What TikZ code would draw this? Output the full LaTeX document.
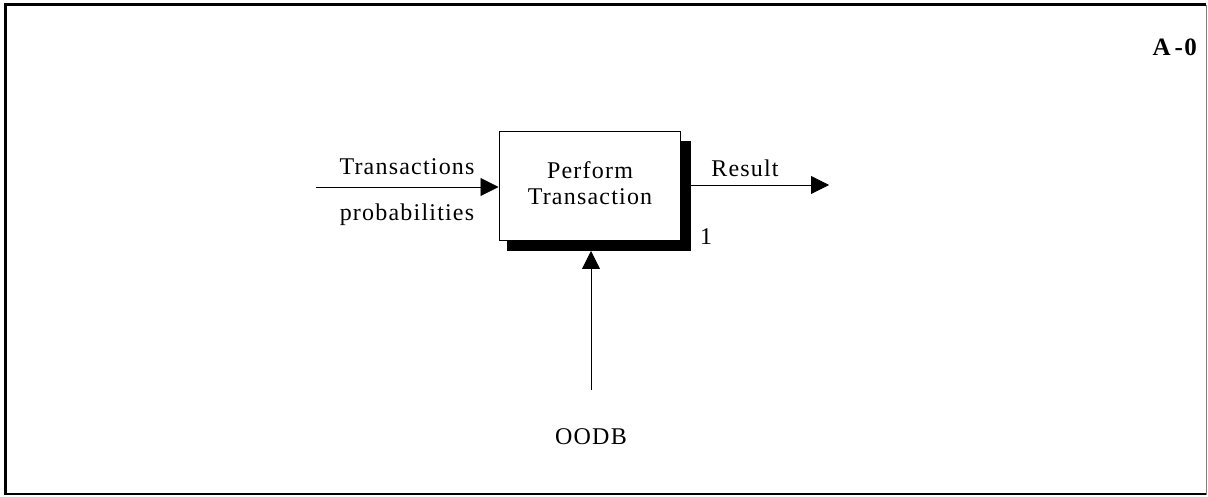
\documentclass[tikz,border=0pt]{standalone}
\usepackage{fontspec}
\setmainfont{Liberation Serif}[LetterSpace=5]
\usetikzlibrary{arrows.meta}
\tikzset{
  lbl/.style={font=\fontsize{24}{26}\selectfont, inner sep=0pt},
  flow/.style={line width=0.8pt, -{Triangle[length=18pt,width=18pt]}},
  actbox/.style={draw, line width=1pt, fill=white, minimum width=181pt, minimum height=109pt, inner sep=0pt},
}
\begin{document}
\begin{tikzpicture}[x=1pt,y=-1pt]
\useasboundingbox (0,0) rectangle (1208,497);
% frame
\draw[line width=3pt] (5,495) -- (5,5) -- (1206,5);
\draw[line width=0.8pt,gray] (1206,5) -- (1206,495);
\draw[line width=2.5pt] (5,494) -- (1206,494);
\node[font=\fontsize{25}{27}\selectfont\bfseries, anchor=east, inner sep=0pt] (title) at (1197,47) {A\,-0};
% shadow
\fill (507,141) rectangle (691,251);
% activity box
\node[actbox] (act) at (589.5,186.5) {};
\node[lbl, align=center] (acttext) at (590,183) {Perform\\[0pt]Transaction};
\node[lbl] (num) at (706,237) {1};
\coordinate (ctrlin) at (591,251);
\coordinate (inS) at (316,187);
\coordinate (outE) at (829,185);
\coordinate (ctrlS) at (591,390);
\draw[flow] (inS) -- (act.west |- inS);
\draw[flow] (act.east |- outE) -- (outE);
\draw[flow] (ctrlS) -- (ctrlin);
\node[lbl] (ltrans) at (407,167) {Transactions};
\node[lbl] (lprob) at (407,215) {probabilities};
\node[lbl] (lres) at (745,168) {Result};
\node[lbl] (loodb) at (591,437) {OODB};
\end{tikzpicture}
\end{document}
